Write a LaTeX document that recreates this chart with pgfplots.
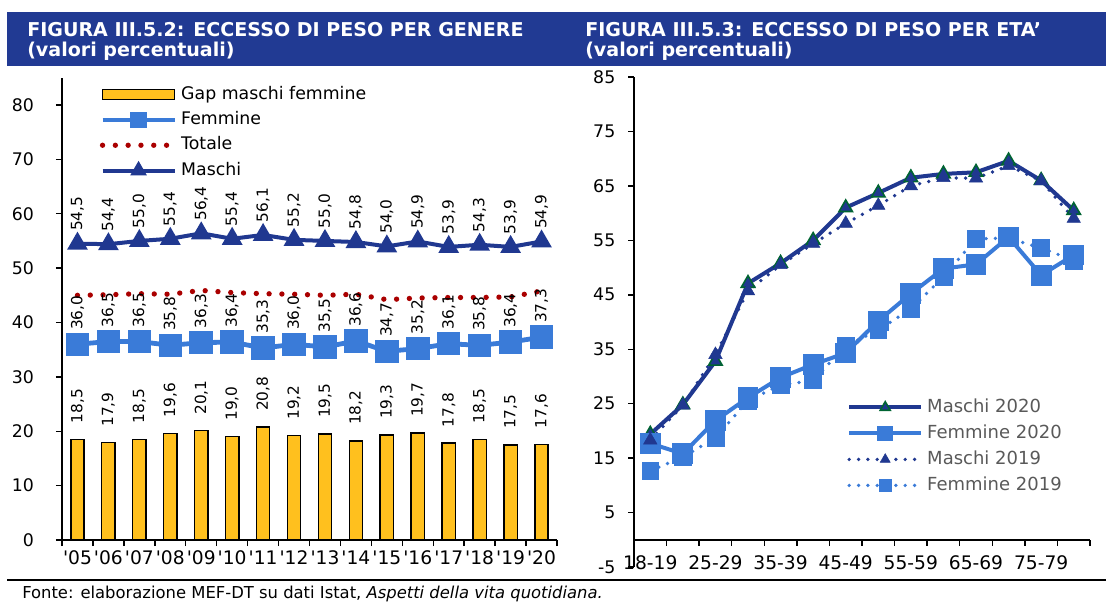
\documentclass[border=0pt]{standalone}
\usepackage{pgfplots}
\usepackage{pgfplotstable}
\pgfplotsset{compat=1.18}
\usepackage{fontspec}
\setmainfont{DejaVu Sans}[ItalicFont={DejaVu Sans Oblique},BoldFont={DejaVu Sans Bold},BoldItalicFont={DejaVu Sans Bold Oblique}]
\definecolor{hdr}{RGB}{33,58,147}
\definecolor{mblue}{RGB}{32,56,144}
\definecolor{fblue}{RGB}{58,123,216}
\definecolor{gold}{RGB}{255,192,30}
\definecolor{tred}{RGB}{170,0,0}
\definecolor{mgreen}{RGB}{0,100,50}
\definecolor{lgray}{RGB}{89,89,89}
\pgfkeys{/pgf/number format/assume math mode=true}

\pgfplotstableread{
x gap fem tot mas
0 18.5 36.0 45.0 54.5
1 17.9 36.5 45.1 54.4
2 18.5 36.5 45.3 55.0
3 19.6 35.8 45.2 55.4
4 20.1 36.3 45.9 56.4
5 19.0 36.4 45.5 55.4
6 20.8 35.3 45.3 56.1
7 19.2 36.0 45.2 55.2
8 19.5 35.5 45.0 55.0
9 18.2 36.6 45.2 54.8
10 19.3 34.7 44.2 54.0
11 19.7 35.2 44.5 54.9
12 17.8 36.1 44.6 53.9
13 18.5 35.8 44.6 54.3
14 17.5 36.4 44.7 53.9
15 17.6 37.3 45.8 54.9
}\gendertable

\pgfplotstableread{
x m20 f20 m19 f19
0 19.4 17.7 18.3 12.7
1 24.8 15.8 24.7 15.2
2 32.8 21.9 34.0 18.7
3 47.1 26.1 45.7 25.6
4 50.8 29.8 50.5 28.4
5 55.0 32.2 54.4 29.3
6 61.0 34.3 58.1 35.6
7 63.7 40.2 61.4 38.5
8 66.5 45.2 65.0 42.4
9 67.2 49.8 66.5 48.3
10 67.5 50.6 66.4 55.3
11 69.6 55.6 68.7 55.4
12 66.0 48.6 65.9 53.6
13 60.5 52.3 59.0 51.3
}\agetable

\pgfplotsset{
  myaxis/.style={
    scale only axis, clip=false,
    axis line style={line width=1.3pt, black},
    tick style={line width=1.1pt, black},
    major tick length=4.5pt, minor tick length=4.5pt,
    tick align=outside,
    ticklabel style={font=\fontsize{13}{15}\selectfont},
    legend cell align=left,
    legend image code/.code={\draw[mark repeat=2,mark phase=2,##1,mark size=4.3pt] plot coordinates {(0pt,0pt) (27pt,0pt) (54pt,0pt)};},
  },
  barleg/.style={legend image code/.code={\draw[##1] (0pt,-3.8pt) rectangle (54pt,3.8pt);}},
  lab/.style={nodes near coords={\rotatebox{90}{\pgfmathprintnumber[fixed,zerofill,precision=1,use comma]{\pgfplotspointmeta}}},
    every node near coord/.append style={anchor=south, inner xsep=0pt, inner ysep=#1, font=\fontsize{11.5}{13}\selectfont, text=black}},
}

\begin{document}
\begin{tikzpicture}[x=0.75pt,y=0.75pt]
\path[use as bounding box] (0,0) rectangle (1113,-604);

% header band
\fill[hdr] (7,-12) rectangle (1106,-66);
\node[anchor=base west, inner sep=0pt, text=white, font=\bfseries\fontsize{14.3}{17}\selectfont] at (27,-36) {FIGURA III.5.2: ECCESSO DI PESO PER GENERE};
\node[anchor=base west, inner sep=0pt, text=white, font=\bfseries\fontsize{14.3}{17}\selectfont] at (27,-56) {(valori percentuali)};
\node[anchor=base west, inner sep=0pt, text=white, font=\bfseries\fontsize{14.3}{17}\selectfont] at (585,-36) {FIGURA III.5.3: ECCESSO DI PESO PER ETA’};
\node[anchor=base west, inner sep=0pt, text=white, font=\bfseries\fontsize{14.3}{17}\selectfont] at (585,-56) {(valori percentuali)};

% left chart
\begin{axis}[myaxis,
  at={(46.5pt,-405pt)}, anchor=south west,
  width=371.25pt, height=346.65pt,
  xmin=-0.5, xmax=15.5, ymin=0, ymax=85,
  axis x line*=bottom, axis y line*=left,
  xtick={0,...,15},
  xticklabels={\textquotesingle05,\textquotesingle06,\textquotesingle07,\textquotesingle08,\textquotesingle09,\textquotesingle10,\textquotesingle11,\textquotesingle12,\textquotesingle13,\textquotesingle14,\textquotesingle15,\textquotesingle16,\textquotesingle17,\textquotesingle18,\textquotesingle19,\textquotesingle20},
  major x tick style={draw=none},
  minor xtick={-0.5,0.5,...,15.5},
  ytick={0,10,...,80},
  x tick label style={font=\fontsize{14}{16}\selectfont},
  y tick label style={xshift=-13pt},
  legend style={at={(0.076,0.983)}, anchor=north west, draw=none, fill=none,
    font=\fontsize{13}{15}\selectfont, row sep=6pt, inner sep=0pt,
    nodes={inner sep=0pt, text height=10pt, text depth=3pt},
    /tikz/every odd column/.append style={column sep=3pt}},
]
\addplot[ybar, bar width=10pt, fill=gold, draw=black, line width=1.1pt, lab=11.5pt, barleg]
  table[x=x,y=gap]{\gendertable};
\addlegendentry{Gap maschi femmine}
\addplot[fblue, line width=3.6pt, mark=square*, mark size=7pt, mark options={solid, fill=fblue}, lab=9pt]
  table[x=x,y=fem]{\gendertable};
\addlegendentry{Femmine}
\addplot[tred, line width=4pt, dash pattern=on 0pt off 9.6pt, line cap=round]
  table[x=x,y=tot]{\gendertable};
\addlegendentry{Totale}
\addplot[mblue, line width=3pt, mark=triangle*, mark size=6pt, mark options={solid, fill=mblue}, lab=8pt]
  table[x=x,y=mas]{\gendertable};
\addlegendentry{Maschi}
\end{axis}

% right chart
\begin{axis}[myaxis,
  at={(475.5pt,-425.25pt)}, anchor=south west,
  width=342pt, height=367.5pt,
  xmin=-0.5, xmax=13.5, ymin=-5, ymax=85,
  axis x line*=middle, axis y line*=left,
  xtick={0,...,13},
  xticklabels={18-19,,25-29,,35-39,,45-49,,55-59,,65-69,,75-79,},
  major x tick style={draw=none},
  minor xtick={-0.5,0.5,...,13.5},
  ytick={-5,5,...,85},
  x tick label style={font=\fontsize{14}{16}\selectfont, yshift=-4pt},
  y tick label style={xshift=-6pt},
  legend style={at={(0.467,0.344)}, anchor=north west, draw=none, fill=none,
    font=\fontsize{13.5}{15}\selectfont, text=lgray, row sep=6.5pt, inner sep=0pt,
    nodes={inner sep=0pt, text height=10pt, text depth=3pt},
    /tikz/every odd column/.append style={column sep=3pt}},
]
\addplot[mblue, line width=3pt, mark=triangle*, mark size=5.8pt, mark options={solid, fill=mblue, draw=mgreen, line width=1.2pt}]
  table[x=x,y=m20]{\agetable};
\addlegendentry{Maschi 2020}
\addplot[fblue, line width=3pt, mark=square*, mark size=6.3pt, mark options={solid, fill=fblue}]
  table[x=x,y=f20]{\agetable};
\addlegendentry{Femmine 2020}
\addplot[mblue, line width=2.8pt, dash pattern=on 0pt off 7pt, line cap=round, mark=triangle*, mark size=5.8pt, mark options={solid, fill=mblue, line width=0.4pt}]
  table[x=x,y=m19]{\agetable};
\addlegendentry{Maschi 2019}
\addplot[fblue, line width=2.8pt, dash pattern=on 0pt off 7pt, line cap=round, mark=square*, mark size=6.3pt, mark options={solid, fill=fblue, line width=0.4pt}]
  table[x=x,y=f19]{\agetable};
\addlegendentry{Femmine 2019}
\end{axis}

% footer
\draw[line width=1.5pt] (7,-580) -- (1106,-580);
\node[anchor=base west, inner sep=0pt, font=\fontsize{12.3}{14}\selectfont] at (22,-598) {Fonte: elaborazione MEF-DT su dati Istat, \textit{Aspetti della vita quotidiana.}};
\end{tikzpicture}
\end{document}
